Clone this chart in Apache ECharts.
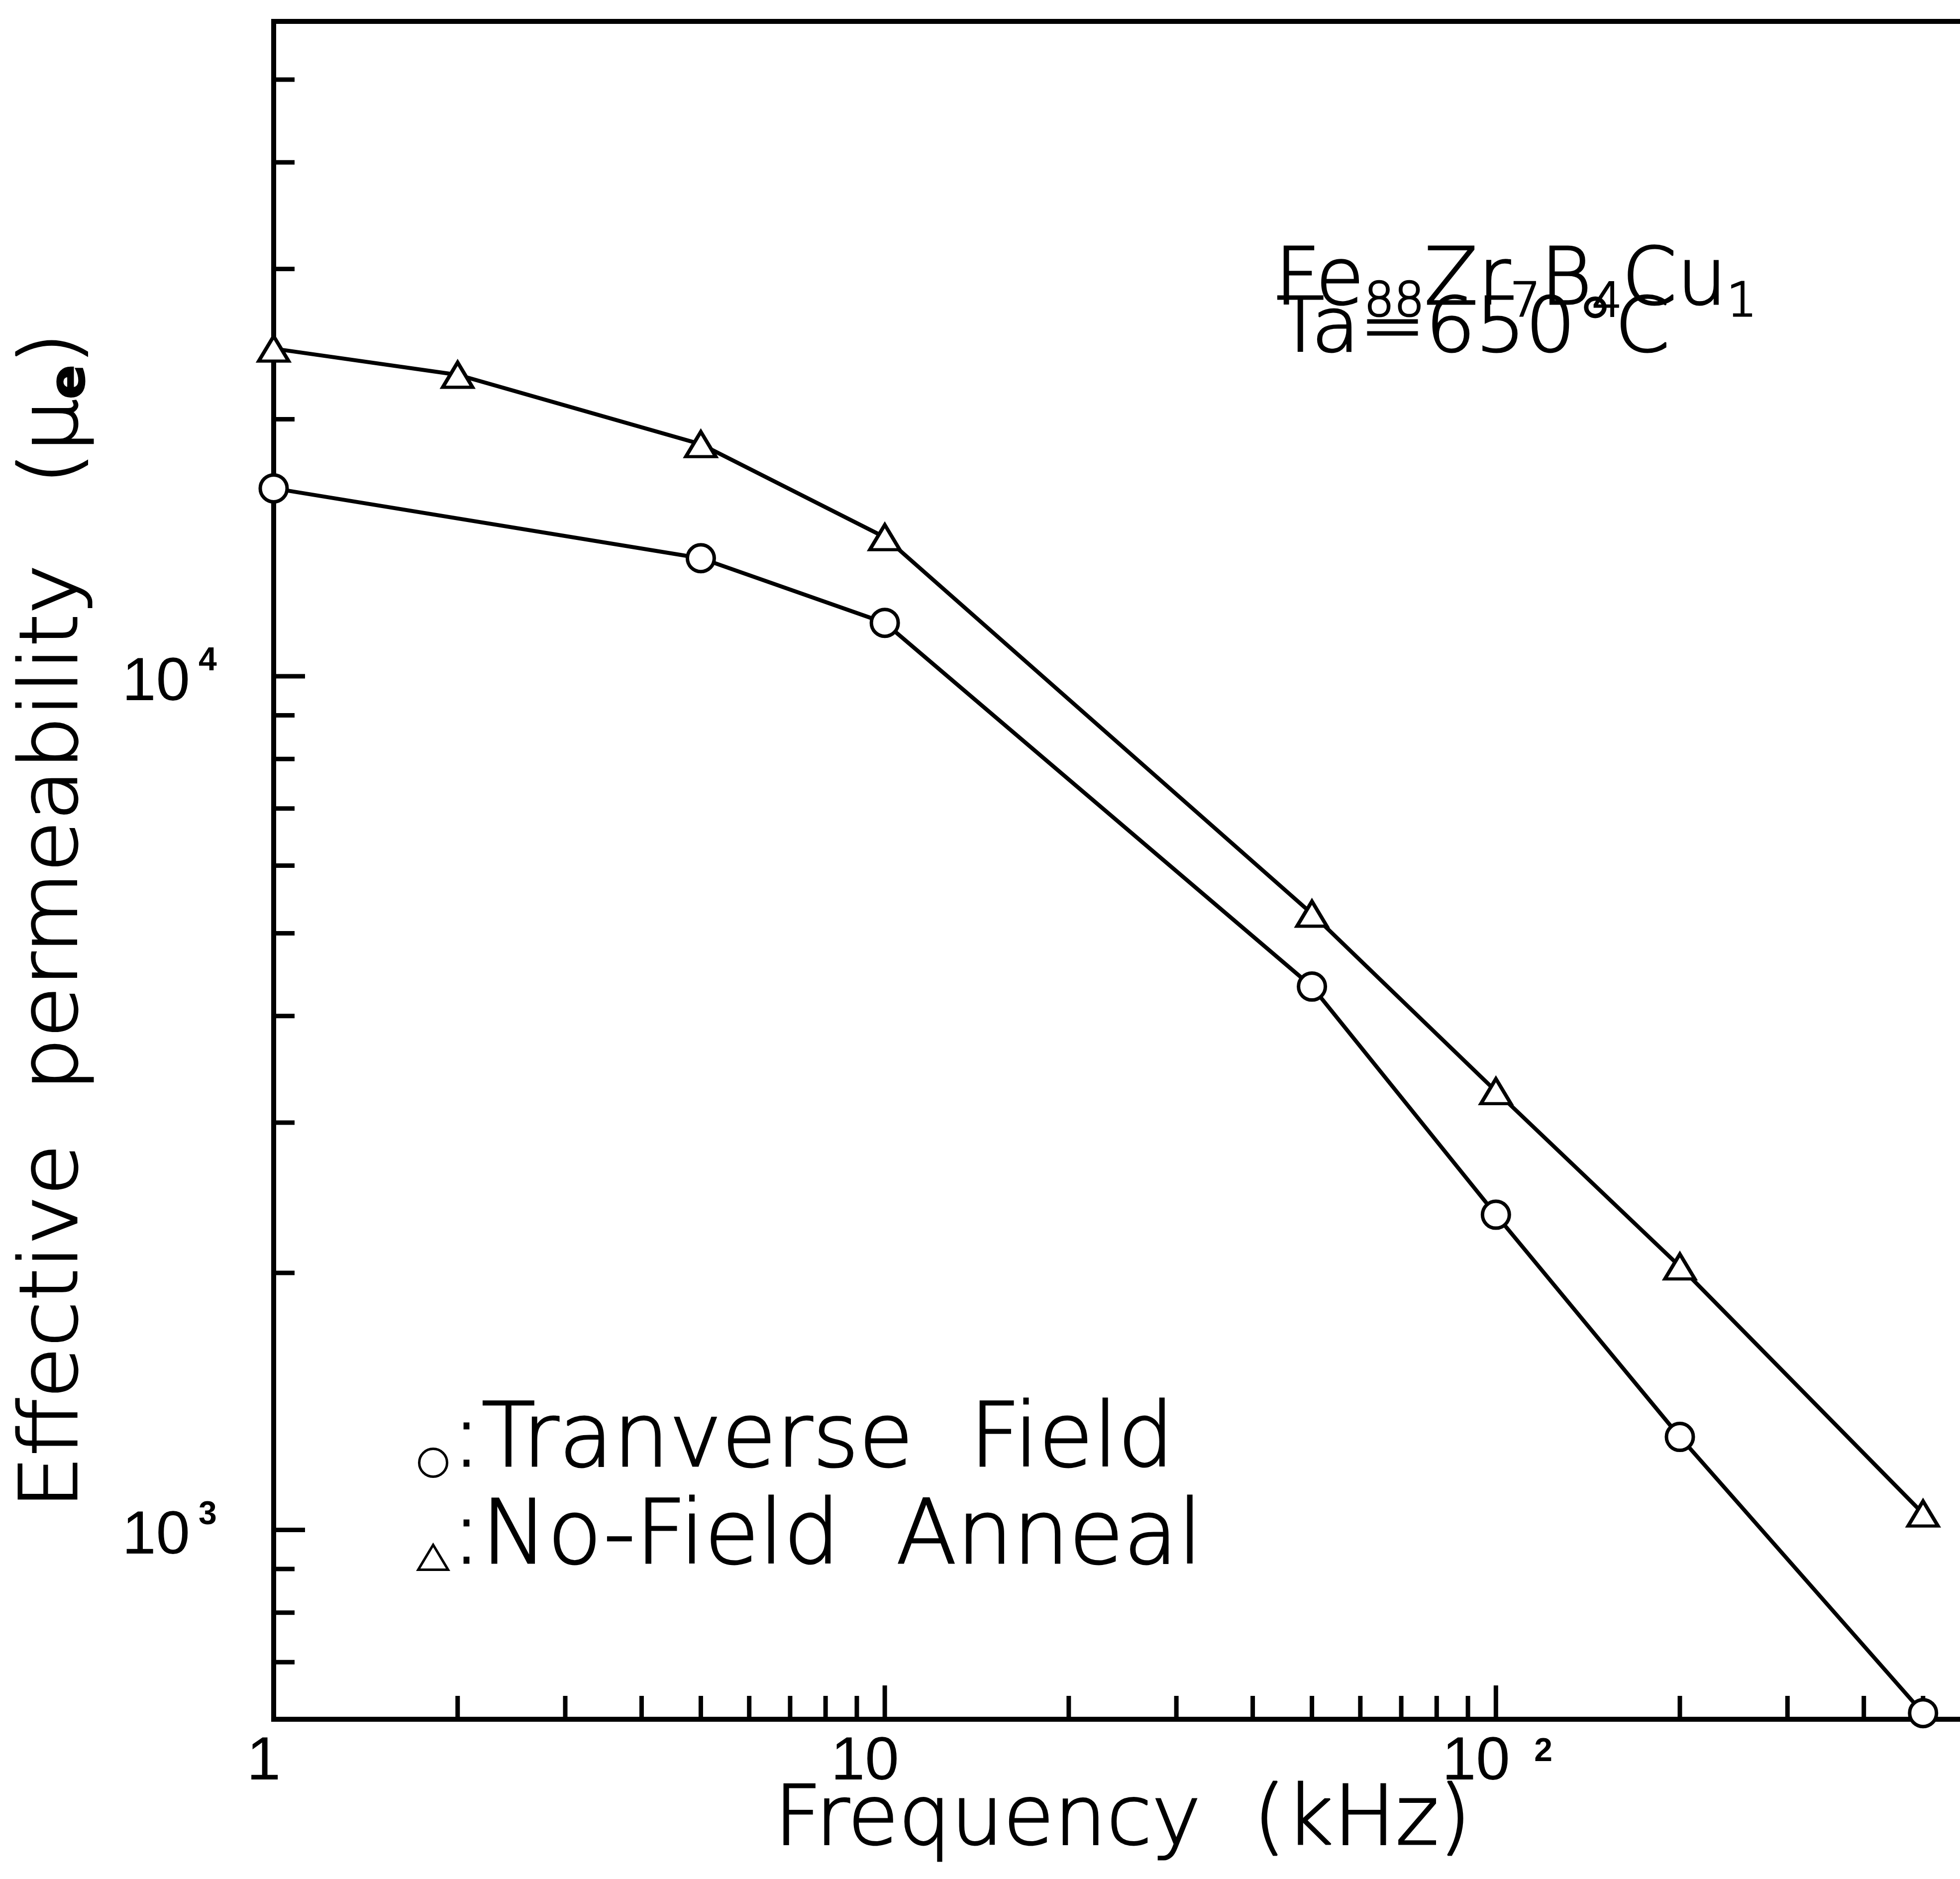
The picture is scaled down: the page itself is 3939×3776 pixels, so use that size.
<!DOCTYPE html>
<html>
<head>
<meta charset="utf-8">
<script src="https://cdn.jsdelivr.net/npm/echarts/dist/echarts.min.js"></script>
<style>
html,body{margin:0;padding:0;background:#fff;}
#chart{width:3939px;height:3776px;}
</style>
</head>
<body>
<div id="chart"></div>
<script>
// ---- data ----
const freqTransverse = [1, 5, 10, 50, 100, 200, 500];          // kHz
const muTransverse   = [16600, 13750, 11550, 4330, 2340, 1285, 610];
const freqNoField    = [1, 2, 5, 10, 50, 100, 200, 500];       // kHz
const muNoField      = [24200, 22550, 18700, 14550, 5270, 3265, 2035, 1045];

const xMajorTicks = [1, 10, 100];
const xMinorTicks = [2, 3, 4, 5, 6, 7, 8, 9, 20, 30, 40, 50, 60, 70, 80, 90, 200, 300, 400, 500];
const yMajorTicks = [1000, 10000];
const yMinorTicks = [700, 800, 900, 2000, 3000, 4000, 5000, 6000, 7000, 8000, 9000, 20000, 30000, 40000, 50000];
const xTickBase = ['1', '10', '10'];
const xTickExp  = ['', '', '2'];
const yTickBase = ['10', '10'];
const yTickExp  = ['3', '4'];
const xRange = [1, 600];
const yRange = [600, 58500];

const formulaParts = [['Fe', 0], ['88', 1], ['Zr', 0], ['7', 1], ['B', 0], ['4', 1], ['Cu', 0], ['1', 1]];
const annealText = 'Ta=650°C';

// ---- styling ----
const FONT = 'DejaVu Sans';
const DIGIT_FONT = 'Liberation Sans';
const LIGHT = 200;
const INK = '#000';
const THICK = {textBorderColor: INK, textBorderWidth: 3};   // for ECharts text-style models
const THICK_G = {stroke: INK, lineWidth: 3};                // for raw graphic text elements

const chart = echarts.init(document.getElementById('chart'), null, {renderer: 'canvas'});

function tickSeries(values, len, orient) {
  return {
    type: 'custom', silent: true, clip: false, z: 3,
    data: values.map(v => orient === 'x' ? [v, yRange[0]] : [xRange[0], v]),
    renderItem: function (params, api) {
      const p = api.coord([api.value(0), api.value(1)]);
      const shape = orient === 'x'
        ? {x1: p[0], y1: p[1], x2: p[0], y2: p[1] - len}
        : {x1: p[0], y1: p[1], x2: p[0] + len, y2: p[1]};
      return {type: 'line', shape: shape, style: {stroke: INK, lineWidth: 9}};
    }
  };
}

function digitStyle(text, size, bold, align) {
  return {text: text, fill: INK, fontFamily: DIGIT_FONT, fontSize: size,
          fontWeight: bold ? 'bold' : 'normal', align: align, verticalAlign: 'middle'};
}

const xLabelSeries = {
  type: 'custom', silent: true, clip: false, z: 3,
  data: xMajorTicks.map((v, i) => [v, yRange[0], i]),
  renderItem: function (params, api) {
    const i = api.value(2);
    const p = api.coord([api.value(0), api.value(1)]);
    const base = xTickBase[i], exp = xTickExp[i];
    const children = [{type: 'text', x: p[0] - 20 * base.length, y: p[1] + 87,
                       style: digitStyle(base, 123, false, 'center')}];
    if (exp) children.push({type: 'text', x: p[0] + 77, y: p[1] + 66, style: digitStyle(exp, 66, true, 'left')});
    return {type: 'group', children: children};
  }
};

const yLabelSeries = {
  type: 'custom', silent: true, clip: false, z: 3,
  data: yMajorTicks.map((v, i) => [xRange[0], v, i]),
  renderItem: function (params, api) {
    const i = api.value(2);
    const p = api.coord([api.value(0), api.value(1)]);
    return {type: 'group', children: [
      {type: 'text', x: p[0] - 168, y: p[1] + 14, style: digitStyle(yTickBase[i], 123, false, 'right')},
      {type: 'text', x: p[0] - 151, y: p[1] - 30, style: digitStyle(yTickExp[i], 66, true, 'left')}
    ]};
  }
};

// formula with subscripts, laid out left to right from measured widths
const measureCtx = document.createElement('canvas').getContext('2d');
function formulaElements(x0, yBase, ySub) {
  const els = [];
  let x = x0;
  formulaParts.forEach(([t, sub]) => {
    const size = sub ? 95 : 158;
    measureCtx.font = LIGHT + ' ' + size + 'px "' + FONT + '"';
    els.push({type: 'text', x: x, y: sub ? ySub : yBase, z: 10,
              style: Object.assign({text: t, fill: INK, fontFamily: FONT, fontWeight: LIGHT, fontSize: size,
                                    align: 'left', verticalAlign: 'middle'}, THICK_G)});
    x += measureCtx.measureText(t).width;
  });
  return els;
}

// legend icons: shape sits in the lower part of a 64x160 box, like the reference key
const ICON_CIRCLE = 'path://M32,0 M32,160 M32,92 A28,28 0 1,1 32,148 A28,28 0 1,1 32,92 Z';
const ICON_TRIANGLE = 'path://M32,0 M32,160 M32,90 L62,140 L2,140 Z';

const option = {
  animation: false,
  backgroundColor: '#fff',
  grid: {
    show: true, left: 550, top: 43, width: 3412, height: 3412,
    borderColor: INK, borderWidth: 10, backgroundColor: 'transparent',
    containLabel: false, outerBoundsMode: 'none'
  },
  xAxis: {
    type: 'log', logBase: 10, min: xRange[0], max: xRange[1],
    axisLine: {show: false}, axisTick: {show: false}, axisLabel: {show: false},
    splitLine: {show: false}, minorTick: {show: false},
    name: 'Frequency  (kHz)', nameLocation: 'middle', nameGap: 128, nameMoveOverlap: false,
    nameTextStyle: Object.assign({fontFamily: FONT, fontWeight: LIGHT, fontSize: 166, lineHeight: 160, color: INK}, THICK)
  },
  yAxis: {
    type: 'log', logBase: 10, min: yRange[0], max: yRange[1],
    axisLine: {show: false}, axisTick: {show: false}, axisLabel: {show: false},
    splitLine: {show: false}, minorTick: {show: false}
  },
  legend: {
    show: true, orient: 'vertical', left: 833, top: 2804,
    itemWidth: 64, itemHeight: 160, itemGap: 14, selectedMode: false,
    data: [{name: 'Tranverse Field', icon: ICON_CIRCLE}, {name: 'No-Field Anneal', icon: ICON_TRIANGLE}],
    formatter: n => ':' + n.replace(' ', '  '),
    itemStyle: {color: '#fff', borderColor: INK, borderWidth: 5},
    textStyle: Object.assign({fontFamily: FONT, fontWeight: LIGHT, fontSize: 178, color: INK, lineHeight: 140}, THICK)
  },
  graphic: [
    {
      type: 'text', x: 112, y: 1850, rotation: Math.PI / 2, scaleX: 1.05, z: 10,
      style: Object.assign({
        text: 'Effective  permeability   (μ{s|e})',
        fill: INK, fontFamily: FONT, fontWeight: LIGHT, fontSize: 160, lineHeight: 160,
        align: 'center', verticalAlign: 'middle',
        rich: {s: {fontSize: 96, fontWeight: 'bold', fontFamily: FONT, fill: INK, lineHeight: 80, verticalAlign: 'bottom'}}
      }, THICK_G)
    },
    ...formulaElements(2562, 570, 610),
    {
      type: 'text', x: 2565, y: 667, scaleX: 1.04, z: 10,
      style: Object.assign({text: annealText, fill: INK, fontFamily: FONT, fontWeight: LIGHT, fontSize: 152,
                            align: 'left', verticalAlign: 'middle'}, THICK_G)
    }
  ],
  series: [
    {
      name: 'Tranverse Field', type: 'line', z: 5, clip: false,
      data: freqTransverse.map((f, i) => [f, muTransverse[i]]),
      symbol: 'circle', symbolSize: 54, showAllSymbol: true,
      itemStyle: {color: '#fff', borderColor: INK, borderWidth: 7},
      lineStyle: {color: INK, width: 8},
      emphasis: {disabled: true}
    },
    {
      name: 'No-Field Anneal', type: 'line', z: 5, clip: false,
      data: freqNoField.map((f, i) => [f, muNoField[i]]),
      symbol: 'triangle', symbolSize: [60, 50], showAllSymbol: true,
      itemStyle: {color: '#fff', borderColor: INK, borderWidth: 7},
      lineStyle: {color: INK, width: 8},
      emphasis: {disabled: true}
    },
    tickSeries(xMajorTicks, 68, 'x'),
    tickSeries(xMinorTicks, 47, 'x'),
    tickSeries(yMajorTicks, 63, 'y'),
    tickSeries(yMinorTicks, 42, 'y'),
    xLabelSeries,
    yLabelSeries
  ]
};
chart.setOption(option);
</script>
</body>
</html>
